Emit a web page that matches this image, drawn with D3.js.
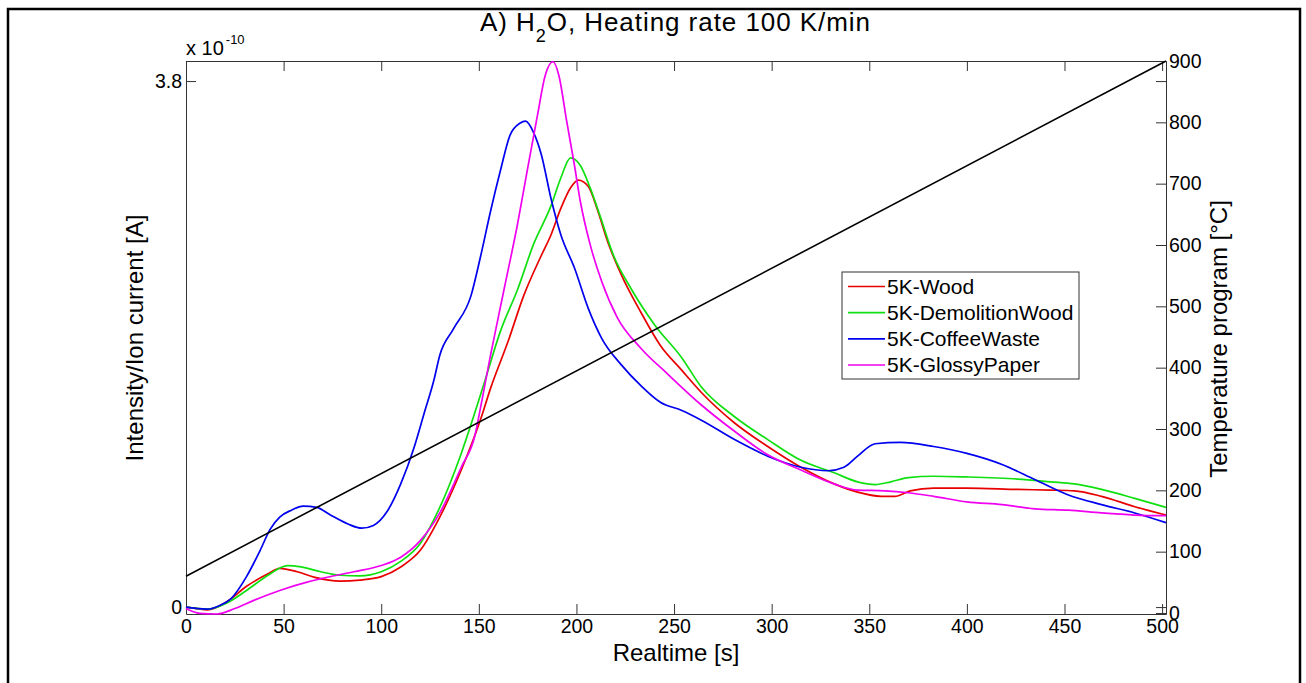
<!DOCTYPE html>
<html lang="en">
<head>
<meta charset="utf-8">
<style>
    body { margin: 0; background: #fff; }
    svg { display: block; }
    text { font-family: "Liberation Sans", Arial, sans-serif; fill: #000; }
</style>
</head>
<body>
<svg width="1306" height="683"></svg>
<script src="https://cdn.jsdelivr.net/npm/d3@7/dist/d3.min.js"></script>
<script>
    // Ion current values in units of 1e-10 A, time in s
    const woodTime  = [0, 5, 11, 21, 31, 42, 48, 57, 66, 79, 89, 100, 110, 120, 130, 141, 151, 156, 165, 173, 182, 187, 192, 197, 201, 206, 211, 216, 223, 233, 243, 254, 264, 281, 298, 315, 332, 344, 356, 363, 371, 383, 400, 426, 443, 455, 469, 486, 502];
    const woodValue = [0.00, -0.01, -0.02, 0.04, 0.15, 0.24, 0.28, 0.255, 0.215, 0.188, 0.195, 0.22, 0.29, 0.41, 0.65, 0.99, 1.36, 1.58, 1.92, 2.25, 2.54, 2.69, 2.88, 3.03, 3.085, 3.04, 2.86, 2.64, 2.40, 2.13, 1.89, 1.71, 1.55, 1.33, 1.16, 1.01, 0.89, 0.83, 0.80, 0.80, 0.84, 0.86, 0.86, 0.85, 0.845, 0.84, 0.80, 0.725, 0.665];

    const demoTime  = [0, 5, 11, 21, 31, 42, 52, 59, 69, 79, 89, 100, 110, 120, 130, 141, 149, 153, 161, 170, 178, 187, 192, 197, 202, 207, 212, 219, 228, 240, 254, 264, 281, 298, 315, 332, 344, 353, 361, 370, 383, 400, 426, 443, 455, 469, 486, 502];
    const demoValue = [0.00, -0.01, -0.015, 0.03, 0.12, 0.23, 0.30, 0.29, 0.255, 0.23, 0.225, 0.255, 0.33, 0.46, 0.72, 1.11, 1.45, 1.63, 1.99, 2.30, 2.62, 2.90, 3.10, 3.245, 3.19, 3.03, 2.83, 2.54, 2.30, 2.04, 1.80, 1.59, 1.375, 1.21, 1.06, 0.97, 0.905, 0.885, 0.905, 0.935, 0.945, 0.94, 0.925, 0.905, 0.89, 0.85, 0.785, 0.72];

    const coffeeTime  = [0, 5, 11, 17, 23, 31, 38, 43, 48, 54, 60, 67, 74, 83, 90, 96, 103, 110, 117, 122, 127, 130, 137, 146, 151, 156, 161, 166, 171, 174, 178, 182, 187, 192, 199, 206, 213, 223, 233, 243, 254, 264, 281, 298, 315, 329, 337, 344, 353, 366, 383, 400, 418, 435, 452, 469, 486, 502];
    const coffeeValue = [0.00, -0.01, -0.015, 0.01, 0.06, 0.22, 0.41, 0.56, 0.65, 0.70, 0.73, 0.72, 0.665, 0.60, 0.57, 0.59, 0.69, 0.89, 1.16, 1.40, 1.64, 1.82, 2.01, 2.25, 2.54, 2.86, 3.15, 3.41, 3.495, 3.51, 3.43, 3.27, 2.95, 2.69, 2.45, 2.16, 1.94, 1.75, 1.60, 1.48, 1.42, 1.35, 1.21, 1.09, 1.01, 0.985, 1.01, 1.09, 1.18, 1.19, 1.16, 1.11, 1.03, 0.92, 0.81, 0.74, 0.68, 0.61];

    const glossyTime  = [0, 7, 16, 25, 35, 48, 62, 74, 86, 100, 110, 120, 130, 141, 148, 151, 156, 163, 170, 175, 180, 184, 188, 191, 195, 199, 202, 207, 213, 221, 233, 247, 264, 281, 298, 315, 332, 344, 358, 370, 383, 400, 418, 435, 452, 469, 486, 502];
    const glossyValue = [-0.01, -0.045, -0.05, -0.01, 0.05, 0.12, 0.18, 0.22, 0.255, 0.30, 0.36, 0.48, 0.68, 1.01, 1.24, 1.45, 1.82, 2.30, 2.78, 3.17, 3.55, 3.84, 3.94, 3.84, 3.51, 3.19, 2.93, 2.62, 2.35, 2.09, 1.87, 1.68, 1.46, 1.27, 1.10, 0.99, 0.89, 0.845, 0.84, 0.826, 0.80, 0.76, 0.74, 0.71, 0.70, 0.68, 0.665, 0.66];

    // Temperature program (right axis)
    const tempTime  = [0, 502];
    const tempValue = [60, 900];

    const seriesNames  = ["5K-Wood", "5K-DemolitionWood", "5K-CoffeeWaste", "5K-GlossyPaper"];
    const seriesColors = ["#e80000", "#10e010", "#0000ee", "#f000f0"];

    const xTicks     = [0, 50, 100, 150, 200, 250, 300, 350, 400, 450, 500];
    const leftTicks  = [0, 3.8];
    const rightTicks = [0, 100, 200, 300, 400, 500, 600, 700, 800, 900];

    const series = [
        { name: seriesNames[0], color: seriesColors[0], t: woodTime,   v: woodValue },
        { name: seriesNames[1], color: seriesColors[1], t: demoTime,   v: demoValue },
        { name: seriesNames[2], color: seriesColors[2], t: coffeeTime, v: coffeeValue },
        { name: seriesNames[3], color: seriesColors[3], t: glossyTime, v: glossyValue }
    ];

    const svg = d3.select("svg");

    // Plot box
    const boxLeft = 186, boxRight = 1166, boxTop = 61, boxBottom = 614;

    const xScale = d3.scaleLinear().domain([0, 502]).range([boxLeft, boxRight]);
    const yLeft  = d3.scaleLinear().domain([-0.05, 3.945]).range([boxBottom, boxTop]);
    const yRight = d3.scaleLinear().domain([0, 900]).range([613, boxTop]);

    // Outer frame
    svg.append("rect")
        .attr("x", 8).attr("y", 9)
        .attr("width", 1292).attr("height", 700)
        .attr("fill", "none").attr("stroke", "#000").attr("stroke-width", 2.5);

    /****************************************************************
    * Axes
    ****************************************************************/
    const axisColor = "#333";
    const styleAxis = g => g
        .attr("font-size", 19.5)
        .attr("font-family", "'Liberation Sans', Arial, sans-serif")
        .attr("color", axisColor);

    // Bottom
    svg.append("g")
        .attr("transform", `translate(0, ${boxBottom})`)
        .call(d3.axisBottom(xScale).tickValues(xTicks).tickSizeInner(-10).tickSizeOuter(0).tickPadding(5))
        .call(styleAxis);

    // Top (ticks only)
    svg.append("g")
        .attr("transform", `translate(0, ${boxTop})`)
        .call(d3.axisTop(xScale).tickValues(xTicks).tickSizeInner(-10).tickSizeOuter(0).tickFormat(""))
        .call(styleAxis);

    // Left
    svg.append("g")
        .attr("transform", `translate(${boxLeft}, 0)`)
        .call(d3.axisLeft(yLeft).tickValues(leftTicks).tickSizeInner(-10).tickSizeOuter(0).tickPadding(4)
            .tickFormat(d => d === 0 ? "0" : d3.format(".1f")(d)))
        .call(styleAxis);

    // Left ticks mirrored on the right
    svg.append("g")
        .attr("transform", `translate(${boxRight}, 0)`)
        .call(d3.axisRight(yLeft).tickValues(leftTicks).tickSizeInner(-10).tickSizeOuter(0).tickFormat(""))
        .call(styleAxis);

    // Right (temperature)
    svg.append("g")
        .attr("transform", `translate(${boxRight}, 0)`)
        .call(d3.axisRight(yRight).tickValues(rightTicks).tickSizeInner(-10).tickSizeOuter(0).tickPadding(3))
        .call(styleAxis);

    /****************************************************************
    * Lines
    ****************************************************************/
    const line = d3.line()
        .x(d => xScale(d[0]))
        .y(d => yLeft(d[1]))
        .curve(d3.curveMonotoneX);

    const plot = svg.append("g");
    series.forEach(s => {
        plot.append("path")
            .datum(s.t.map((t, i) => [t, s.v[i]]))
            .attr("fill", "none")
            .attr("stroke", s.color)
            .attr("stroke-width", 1.7)
            .attr("d", line);
    });

    // Temperature program
    plot.append("path")
        .datum(tempTime.map((t, i) => [t, tempValue[i]]))
        .attr("fill", "none")
        .attr("stroke", "#000")
        .attr("stroke-width", 1.6)
        .attr("d", d3.line().x(d => xScale(d[0])).y(d => yRight(d[1])));

    /****************************************************************
    * Labels
    ****************************************************************/
    const title = svg.append("text")
        .attr("x", 480).attr("y", 31)
        .attr("font-size", 26)
        .attr("textLength", 390).attr("lengthAdjust", "spacing");
    title.append("tspan").text("A) H");
    title.append("tspan").attr("font-size", 18).attr("dy", 11).text("2");
    title.append("tspan").attr("dy", -11).text("O, Heating rate 100 K/min");

    const expo = svg.append("text")
        .attr("x", 186).attr("y", 55)
        .attr("font-size", 20);
    expo.append("tspan").text("x 10");
    expo.append("tspan").attr("font-size", 13).attr("dy", -11).attr("dx", 2).text("-10");

    svg.append("text")
        .attr("x", (boxLeft + boxRight) / 2).attr("y", 661)
        .attr("text-anchor", "middle")
        .attr("font-size", 24)
        .text("Realtime [s]");

    svg.append("text")
        .attr("transform", "translate(143, 338) rotate(-90)")
        .attr("text-anchor", "middle")
        .attr("font-size", 24)
        .text("Intensity/Ion current [A]");

    svg.append("text")
        .attr("transform", "translate(1227, 339) rotate(-90)")
        .attr("text-anchor", "middle")
        .attr("font-size", 24)
        .text("Temperature program [\u00B0C]");

    /****************************************************************
    * Legend
    ****************************************************************/
    const legend = svg.append("g");
    legend.append("rect")
        .attr("x", 842).attr("y", 272)
        .attr("width", 237).attr("height", 107)
        .attr("fill", "#fff").attr("stroke", axisColor).attr("stroke-width", 1);

    const rowY = d3.scaleLinear().domain([0, 3]).range([286.5, 365]);
    series.forEach((s, i) => {
        legend.append("line")
            .attr("x1", 848).attr("x2", 885)
            .attr("y1", rowY(i)).attr("y2", rowY(i))
            .attr("stroke", s.color).attr("stroke-width", 1.7);
        legend.append("text")
            .attr("x", 887).attr("y", rowY(i))
            .attr("dy", "0.35em")
            .attr("font-size", 21)
            .text(s.name);
    });
</script>
</body>
</html>
